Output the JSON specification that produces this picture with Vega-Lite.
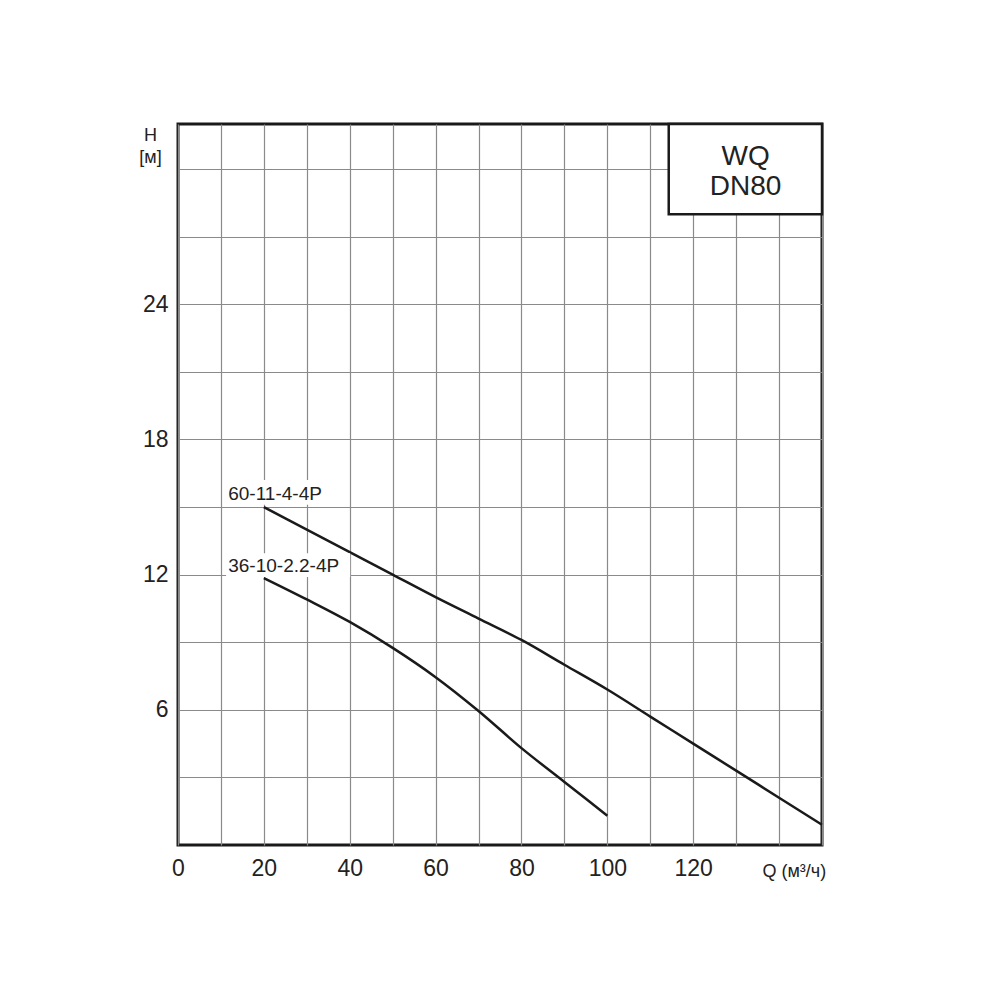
{
  "$schema": "https://vega.github.io/schema/vega-lite/v6.json",
  "autosize": "none",
  "width": 644,
  "height": 721,
  "padding": {"left": 178, "top": 124, "right": 178, "bottom": 155},
  "background": "white",
  "config": {
    "view": {"stroke": "#1a1a1a", "strokeWidth": 3},
    "font": "Liberation Sans"
  },
  "datasets": {
    "curves": [
      {"model": "60-11-4-4P", "Q": 20, "H": 15.0},
      {"model": "60-11-4-4P", "Q": 30, "H": 14.0},
      {"model": "60-11-4-4P", "Q": 40, "H": 13.0},
      {"model": "60-11-4-4P", "Q": 50, "H": 12.0},
      {"model": "60-11-4-4P", "Q": 60, "H": 11.0},
      {"model": "60-11-4-4P", "Q": 70, "H": 10.05},
      {"model": "60-11-4-4P", "Q": 80, "H": 9.1},
      {"model": "60-11-4-4P", "Q": 90, "H": 8.0},
      {"model": "60-11-4-4P", "Q": 100, "H": 6.9},
      {"model": "60-11-4-4P", "Q": 110, "H": 5.7},
      {"model": "60-11-4-4P", "Q": 120, "H": 4.5},
      {"model": "60-11-4-4P", "Q": 130, "H": 3.3},
      {"model": "60-11-4-4P", "Q": 140, "H": 2.1},
      {"model": "60-11-4-4P", "Q": 150, "H": 0.9},
      {"model": "36-10-2.2-4P", "Q": 20, "H": 11.85},
      {"model": "36-10-2.2-4P", "Q": 30, "H": 10.9},
      {"model": "36-10-2.2-4P", "Q": 40, "H": 9.9},
      {"model": "36-10-2.2-4P", "Q": 50, "H": 8.75},
      {"model": "36-10-2.2-4P", "Q": 60, "H": 7.45},
      {"model": "36-10-2.2-4P", "Q": 70, "H": 5.95},
      {"model": "36-10-2.2-4P", "Q": 80, "H": 4.3},
      {"model": "36-10-2.2-4P", "Q": 90, "H": 2.8},
      {"model": "36-10-2.2-4P", "Q": 100, "H": 1.3}
    ],
    "labels": [
      {"text": "60-11-4-4P", "x": 11.7, "y": 15.6, "x1": 11.2, "x2": 35.7, "y1": 15.1, "y2": 16.2},
      {"text": "36-10-2.2-4P", "x": 11.7, "y": 12.4, "x1": 11.2, "x2": 40.1, "y1": 11.9, "y2": 12.95}
    ],
    "box": [
      {"x1": 114.3, "x2": 150, "y1": 28.0, "y2": 32}
    ],
    "boxtext": [
      {"text": "WQ", "x": 132.2, "y": 30.55},
      {"text": "DN80", "x": 132.2, "y": 29.2}
    ]
  },
  "layer": [
    {
      "data": {"name": "box"},
      "mark": {"type": "rect", "fill": "white", "stroke": "#1a1a1a", "strokeWidth": 2.5},
      "encoding": {
        "x": {
          "field": "x1", "type": "quantitative",
          "scale": {"domain": [0, 150], "nice": false, "zero": false},
          "axis": {
            "values": [0, 10, 20, 30, 40, 50, 60, 70, 80, 90, 100, 110, 120, 130, 140, 150],
            "labelExpr": "(datum.value % 20 == 0 && datum.value < 140) ? datum.label : ''",
            "grid": true, "gridColor": "#8a8a8a", "gridWidth": 1.2, "gridOpacity": 1,
            "domain": false, "ticks": false,
            "labelFontSize": 23, "labelColor": "#222", "labelPadding": 12, "labelFlush": false,
            "title": "Q (м³/ч)", "titleFontSize": 18, "titleFontWeight": "normal", "titleColor": "#222",
            "titleAlign": "left", "titleAnchor": "start", "titleBaseline": "alphabetic",
            "titleX": 584, "titleY": 31
          }
        },
        "x2": {"field": "x2"},
        "y": {
          "field": "y1", "type": "quantitative",
          "scale": {"domain": [0, 32], "nice": false, "zero": false},
          "axis": {
            "values": [3, 6, 9, 12, 15, 18, 21, 24, 27, 30],
            "labelExpr": "(datum.value % 6 == 0 && datum.value < 30) ? datum.label : ''",
            "grid": true, "gridColor": "#8a8a8a", "gridWidth": 1.2, "gridOpacity": 1,
            "domain": false, "ticks": false,
            "labelFontSize": 23, "labelColor": "#222", "labelPadding": 10,
            "title": ["H", "[м]"], "titleFontSize": 18, "titleFontWeight": "normal", "titleColor": "#222",
            "titleAngle": 0, "titleAlign": "center", "titleBaseline": "alphabetic",
            "titleLineHeight": 22, "titleX": -28, "titleY": 16
          }
        },
        "y2": {"field": "y2"}
      }
    },
    {
      "data": {"name": "curves"},
      "mark": {"type": "line", "color": "#1a1a1a", "strokeWidth": 2.5, "interpolate": "monotone"},
      "encoding": {
        "x": {"field": "Q", "type": "quantitative"},
        "y": {"field": "H", "type": "quantitative"},
        "detail": {"field": "model"}
      }
    },
    {
      "data": {"name": "labels"},
      "mark": {"type": "rect", "fill": "white"},
      "encoding": {
        "x": {"field": "x1", "type": "quantitative"},
        "x2": {"field": "x2"},
        "y": {"field": "y1", "type": "quantitative"},
        "y2": {"field": "y2"}
      }
    },
    {
      "data": {"name": "labels"},
      "mark": {"type": "text", "align": "left", "baseline": "middle", "fontSize": 19, "color": "#222"},
      "encoding": {
        "x": {"field": "x", "type": "quantitative"},
        "y": {"field": "y", "type": "quantitative"},
        "text": {"field": "text"}
      }
    },
    {
      "data": {"name": "boxtext"},
      "mark": {"type": "text", "align": "center", "baseline": "middle", "fontSize": 28, "color": "#222"},
      "encoding": {
        "x": {"field": "x", "type": "quantitative"},
        "y": {"field": "y", "type": "quantitative"},
        "text": {"field": "text"}
      }
    }
  ]
}
